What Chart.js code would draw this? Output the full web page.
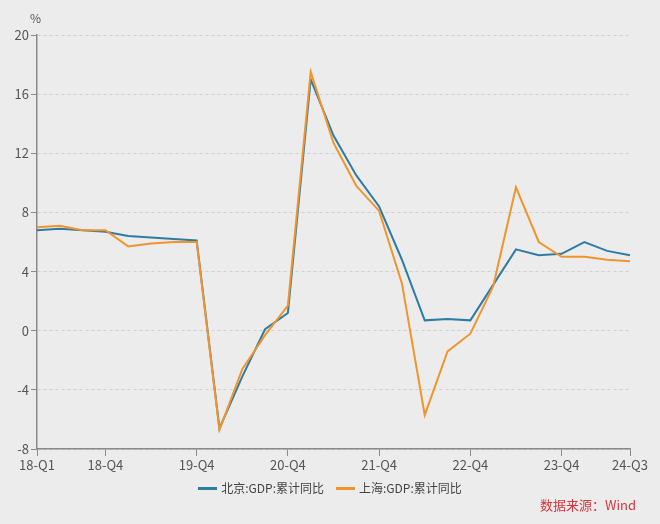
<!DOCTYPE html>
<html>
<head>
<meta charset="utf-8">
<script src="https://cdn.jsdelivr.net/npm/chart.js@4"></script>
<style>
  html, body { margin:0; padding:0; background:#ececec; }
  #wrap { position:relative; width:660px; height:524px; background:#ececec; overflow:hidden;
          font-family:"Noto Sans CJK SC","Noto Sans",sans-serif; }
  #c { position:absolute; left:0; top:0; }
  #unit { position:absolute; left:30px; top:9px; font-size:12px; color:#555; }
  #legend { position:absolute; left:0; width:660px; top:477px; text-align:center; font-size:12px; color:#444; white-space:nowrap; }
  .item { display:inline-block; margin:0 6px; vertical-align:middle; }
  .swatch { display:inline-block; width:19px; height:3px; vertical-align:middle; margin-right:4px; position:relative; top:-1px; }
  #source { position:absolute; right:24px; top:495px; font-size:13px; color:#d6363d; }
</style>
</head>
<body>
<div id="wrap">
  <canvas id="c" width="660" height="524"></canvas>
  <div id="unit">%</div>
  <div id="legend"></div>
  <div id="source">数据来源：Wind</div>
</div>
<script>
const quarters = ['18-Q1','18-Q2','18-Q3','18-Q4','19-Q1','19-Q2','19-Q3','19-Q4',
  '20-Q1','20-Q2','20-Q3','20-Q4','21-Q1','21-Q2','21-Q3','21-Q4',
  '22-Q1','22-Q2','22-Q3','22-Q4','23-Q1','23-Q2','23-Q3','23-Q4',
  '24-Q1','24-Q2','24-Q3'];
const shownTicks = ['18-Q1','18-Q4','19-Q4','20-Q4','21-Q4','22-Q4','23-Q4','24-Q3'];
const beijing = [6.8,6.9,6.8,6.7,6.4,6.3,6.2,6.1,-6.6,-3.1,0.1,1.2,17.0,13.2,10.5,8.4,4.8,0.7,0.8,0.7,3.1,5.5,5.1,5.2,6.0,5.4,5.1];
const shanghai = [7.0,7.1,6.8,6.8,5.7,5.9,6.0,6.0,-6.7,-2.6,-0.3,1.7,17.5,12.7,9.8,8.1,3.2,-5.7,-1.4,-0.2,3.0,9.7,6.0,5.0,5.0,4.8,4.7];
const seriesNames = ['北京:GDP:累计同比','上海:GDP:累计同比'];
const seriesColors = ['#2f7ca3','#f0952d'];
const yTicks = {min:-8, max:20, step:4};

const FONT = '"Noto Sans CJK SC","Noto Sans",sans-serif';

const legend = document.getElementById('legend');
seriesNames.forEach((n,i)=>{
  const s = document.createElement('span');
  s.className = 'item';
  s.innerHTML = '<span class="swatch" style="background:'+seriesColors[i]+'"></span>'+n;
  legend.appendChild(s);
});

new Chart(document.getElementById('c'), {
  type:'line',
  data:{
    labels: quarters,
    datasets:[
      {label:seriesNames[0], data:beijing, borderColor:seriesColors[0], backgroundColor:seriesColors[0],
       borderWidth:2, pointRadius:0, tension:0, order:1},
      {label:seriesNames[1], data:shanghai, borderColor:seriesColors[1], backgroundColor:seriesColors[1],
       borderWidth:2, pointRadius:0, tension:0, order:0}
    ]
  },
  options:{
    responsive:false,
    animation:false,
    layout:{padding:{top:35, right:30, left:0, bottom:50}},
    plugins:{legend:{display:false}, tooltip:{enabled:false}},
    scales:{
      x:{
        type:'category',
        offset:false,
        afterFit:(s)=>{ s.height = 25; },
        grid:{display:true, drawOnChartArea:false, drawTicks:true, tickLength:7,
              tickColor:(ctx)=> shownTicks.includes(quarters[ctx.index]) ? '#8a8a8a' : 'rgba(0,0,0,0)'},
        border:{display:true, color:'#8a8a8a', width:1.5},
        ticks:{autoSkip:false, maxRotation:0, padding:1, color:'#555',
               font:{family:FONT, size:13},
               callback:(v,i)=> shownTicks.includes(quarters[i]) ? quarters[i] : ''}
      },
      y:{
        min:yTicks.min, max:yTicks.max,
        afterFit:(s)=>{ s.width = 37; },
        grid:{color:'#cfcfcf', lineWidth:1, tickLength:6, tickColor:'#8a8a8a', drawTicks:true},
        border:{display:true, color:'#8a8a8a', width:1.5, dash:[3,3]},
        ticks:{stepSize:yTicks.step, padding:2, color:'#555', font:{family:FONT, size:13}}
      }
    }
  }
});
</script>
</body>
</html>
